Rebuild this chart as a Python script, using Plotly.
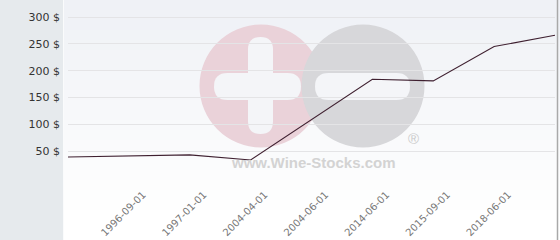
import plotly.graph_objects as go

# ---- data ----
dates = ["1996-09-01", "1997-01-01", "2004-04-01", "2004-06-01",
         "2014-06-01", "2015-09-01", "2018-06-01"]
prices = [39, 41, 43, 33.5, 108.5, 184, 181, 245, 266]
y_tick_vals = [0, 50, 100, 150, 200, 250, 300]
y_tick_text = ["", "50 $", "100 $", "150 $", "200 $", "250 $", "300 $"]

W, H = 560, 240
L, R, T, B = 68, 5, 6, 62
PW, PH = W - L - R, H - T - B


def px(x):
    return (x - L) / PW


def py(y):
    return (H - B - y) / PH


shapes = []


def rect(x0, y0, x1, y1, color, layer="below", opacity=1):
    shapes.append(dict(type="rect", xref="paper", yref="paper",
                       x0=px(x0), x1=px(x1), y0=py(y1), y1=py(y0),
                       fillcolor=color, line=dict(width=0), layer=layer,
                       opacity=opacity))


def circle(cx, cy, r, color):
    shapes.append(dict(type="circle", xref="paper", yref="paper",
                       x0=px(cx - r), x1=px(cx + r), y0=py(cy + r), y1=py(cy - r),
                       fillcolor=color, line=dict(width=0), layer="below"))


def rounded(x0, y0, x1, y1, color):
    # horizontal or vertical pill shape
    w, h = x1 - x0, y1 - y0
    r = min(w, h) / 2
    def P(x, y):
        return f"{px(x):.5f},{py(y):.5f}"
    if w >= h:
        path = (f"M {P(x0 + r, y0)} L {P(x1 - r, y0)} "
                f"Q {P(x1, y0)} {P(x1, y0 + r)} Q {P(x1, y1)} {P(x1 - r, y1)} "
                f"L {P(x0 + r, y1)} Q {P(x0, y1)} {P(x0, y0 + r)} "
                f"Q {P(x0, y0)} {P(x0 + r, y0)} Z")
    else:
        path = (f"M {P(x0, y0 + r)} Q {P(x0, y0)} {P(x0 + r, y0)} "
                f"Q {P(x1, y0)} {P(x1, y0 + r)} L {P(x1, y1 - r)} "
                f"Q {P(x1, y1)} {P(x0 + r, y1)} Q {P(x0, y1)} {P(x0, y1 - r)} Z")
    shapes.append(dict(type="path", xref="paper", yref="paper", path=path,
                       fillcolor=color, line=dict(width=0), layer="below"))


# background gradient
n = 24
for i in range(n):
    y0 = i * 10
    t = min(1.0, (y0 + 5) / 210)
    c = (int(239 + (255 - 239) * t), int(241 + (255 - 241) * t), int(246 + (255 - 246) * t))
    rect(63, y0, 560, y0 + 10, f"rgb{c}")

# left panel
rect(0, 0, 63, 240, "#e6eaed")
rect(63, 0, 64, 240, "#fafbfc")

# watermark logo
circle(261, 86, 61.5, "rgb(234,210,217)")
circle(363, 86, 61.5, "rgb(215,215,218)")
bar = "rgb(244,245,248)"
rounded(248, 37, 273, 134, bar)
rounded(214, 73, 301, 100, bar)
rounded(315, 73, 410, 100, bar)

# right border
shapes.append(dict(type="line", xref="paper", yref="paper",
                   x0=px(557.5), x1=px(557.5), y0=py(0), y1=py(240),
                   line=dict(color="#a9a9a9", width=1.5), layer="above"))

annotations = [
    dict(xref="paper", yref="paper", x=px(313), y=py(162), text="<b>www.Wine-Stocks.com</b>",
         showarrow=False, font=dict(family="Liberation Sans", size=15, color="#d3d3d3"),
         xanchor="center", yanchor="middle"),
    dict(xref="paper", yref="paper", x=px(413), y=py(138), text="®",
         showarrow=False, font=dict(family="Liberation Sans", size=15, color="#cbcbcb"),
         xanchor="center", yanchor="middle"),
]

fig = go.Figure()
fig.add_trace(go.Scatter(x=list(range(len(prices))), y=prices, mode="lines",
                         line=dict(color="#3f2030", width=1.1), hoverinfo="skip"))

fig.update_layout(
    width=W, height=H,
    margin=dict(l=L, r=R, t=T, b=B, pad=0, autoexpand=False),
    paper_bgcolor="white", plot_bgcolor="rgba(0,0,0,0)",
    showlegend=False, shapes=shapes, annotations=annotations,
    xaxis=dict(range=[0, len(prices) - 1], showgrid=False, zeroline=False, showline=False,
               tickvals=list(range(1, len(dates) + 1)), ticktext=dates, tickangle=-45,
               tickfont=dict(family="DejaVu Sans", size=10, color="#777"), ticks="",
               ticklabelshift=14, ticklabelstandoff=8, automargin=False),
    yaxis=dict(range=[0, (H - B - T) / ((178 - 17) / 300)], tickvals=y_tick_vals,
               ticktext=y_tick_text, showgrid=True, gridcolor="#e4e4e6", gridwidth=1,
               zeroline=False, showline=False, ticks="", automargin=False,
               tickfont=dict(family="DejaVu Sans", size=11, color="#333"),
               ticklabelstandoff=7),
)

fig.write_html("out.html")
